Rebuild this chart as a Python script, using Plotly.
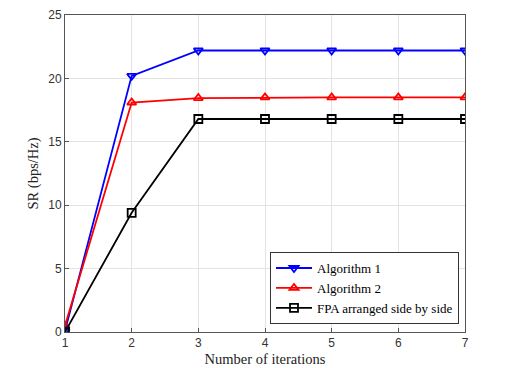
import plotly.graph_objects as go

iterations = [1, 2, 3, 4, 5, 6, 7]
alg1 = [0.1, 20.2, 22.2, 22.2, 22.2, 22.2, 22.2]
alg2 = [0.5, 18.1, 18.45, 18.5, 18.5, 18.5, 18.5]
fpa = [0.0, 9.4, 16.8, 16.8, 16.8, 16.8, 16.8]

series = [
    ("Algorithm 1", alg1, "blue", "triangle-down-open"),
    ("Algorithm 2", alg2, "red", "triangle-up-open"),
    ("FPA arranged side by side", fpa, "black", "square-open"),
]

fig = go.Figure()
for name, vals, color, sym in series:
    fig.add_trace(go.Scatter(
        x=iterations, y=vals, mode="lines+markers", name=name,
        line=dict(color=color, width=1.8),
        marker=dict(symbol=sym, size=8, color=color, line=dict(width=1.8, color=color)),
    ))

axis_common = dict(
    showline=True, linecolor="#555555", linewidth=1, mirror=True,
    showgrid=True, gridcolor="#e3e3e3", gridwidth=1,
    ticks="inside", ticklen=4, tickcolor="#555555",
    tickfont=dict(family="Liberation Sans", size=12, color="#333333"),
    zeroline=False, automargin=False, ticklabeloverflow="allow",
)

fig.update_layout(
    width=512, height=368,
    margin=dict(l=57, r=55, t=7, b=44),
    paper_bgcolor="white", plot_bgcolor="white",
    xaxis=dict(range=[1, 7], dtick=1,
               title=dict(text="Number of iterations", standoff=4,
                          font=dict(family="Liberation Serif", size=14.5, color="#222222")),
               **axis_common),
    yaxis=dict(range=[0, 25], dtick=5,
               title=dict(text="SR (bps/Hz)", standoff=6,
                          font=dict(family="Liberation Serif", size=14.5, color="#222222")),
               **axis_common),
    legend=dict(x=0.985, y=0.025, xanchor="right", yanchor="bottom",
                bgcolor="white", bordercolor="#333333", borderwidth=1,
                font=dict(family="Liberation Serif", size=13, color="black"),
                tracegroupgap=0, itemwidth=36),
    showlegend=True,
)

fig.write_html("out.html")
